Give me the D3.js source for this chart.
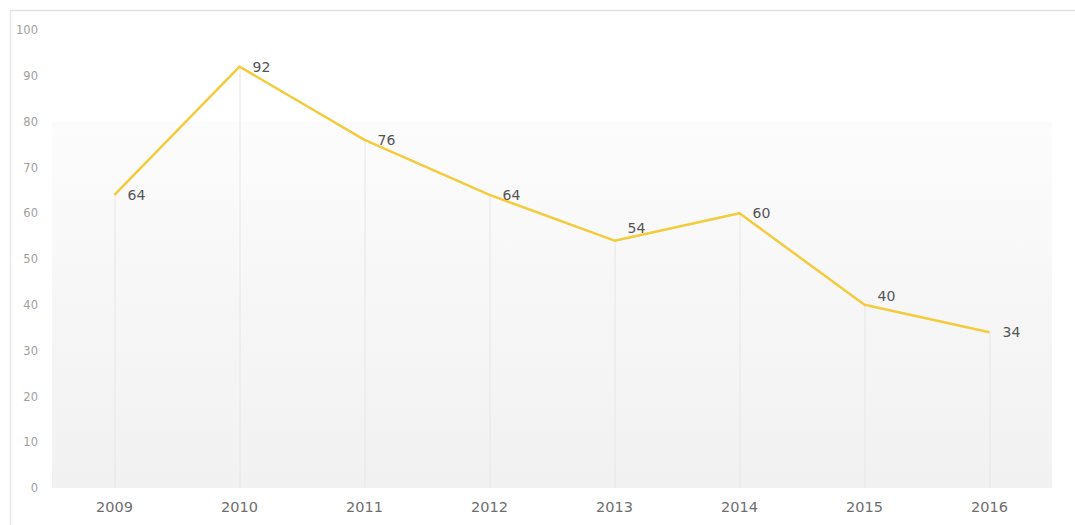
<!DOCTYPE html>
<html><head><meta charset="utf-8">
<script src="https://cdn.jsdelivr.net/npm/d3@7"></script>
<style>html,body{margin:0;padding:0;background:#fff;}svg{display:block;font-family:"DejaVu Sans",sans-serif;}</style>
</head><body>
<svg id="c" width="1075" height="525"></svg>
<script>
const years = ["2009","2010","2011","2012","2013","2014","2015","2016"];
const values = [64, 92, 76, 64, 54, 60, 40, 34];
const yTicks = [0,10,20,30,40,50,60,70,80,90,100];

// label vertical lift (px) to avoid overlapping the line
const labelLift = [0, 0, 0, 0, 13, 0, 9, 0];

const svg = d3.select("#c");
const W = 1075, H = 525;
const m = {left: 52, right: 23, top: 30, bottom: 37};
const x = d3.scaleBand().domain(years).range([m.left, W - m.right]);
const y = d3.scaleLinear().domain([0, 100]).range([H - m.bottom, m.top]);

// frame lines
svg.append("line").attr("x1", 10).attr("x2", W).attr("y1", 10.5).attr("y2", 10.5).attr("stroke", "#e2e2e2").attr("stroke-width", 1.5);
svg.append("line").attr("x1", 10.5).attr("x2", 10.5).attr("y1", 10).attr("y2", H).attr("stroke", "#e6e6e6").attr("stroke-width", 1.5);

// gradient background
const defs = svg.append("defs");
const g = defs.append("linearGradient").attr("id", "bg").attr("x1", 0).attr("x2", 0).attr("y1", 0).attr("y2", 1);
g.append("stop").attr("offset", "0").attr("stop-color", "#ffffff");
g.append("stop").attr("offset", "0.2").attr("stop-color", "#ffffff");
g.append("stop").attr("offset", "0.2").attr("stop-color", "#fcfcfc");
g.append("stop").attr("offset", "1").attr("stop-color", "#f1f1f1");
svg.append("rect").attr("x", m.left).attr("y", y(100)).attr("width", W - m.right - m.left).attr("height", y(0) - y(100)).attr("fill", "url(#bg)");

// y axis
const yAxis = d3.axisLeft(y).tickValues(yTicks).tickSize(0).tickPadding(0);
const ya = svg.append("g").attr("transform", `translate(38,0)`).call(yAxis);
ya.select(".domain").remove();
ya.selectAll("text").attr("fill", "#a0a0a0").attr("font-size", 11.5).attr("font-family", "DejaVu Sans");

// x axis
const xAxis = d3.axisBottom(x).tickSize(0).tickPadding(14);
const xa = svg.append("g").attr("transform", `translate(0,${y(0)})`).call(xAxis);
xa.select(".domain").remove();
xa.selectAll("text").attr("fill", "#6e6e6e").attr("font-size", 14.5).attr("font-family", "DejaVu Sans");

const cx = d => x(d) + x.bandwidth() / 2;

// drop lines
svg.append("g").selectAll("line").data(years).join("line")
  .attr("x1", d => cx(d) + 0.5).attr("x2", d => cx(d) + 0.5)
  .attr("y1", (d, i) => y(values[i])).attr("y2", y(0))
  .attr("stroke", "#e6e6e6").attr("stroke-width", 1);

// line
const line = d3.line().x((d, i) => cx(years[i])).y(d => y(d));
svg.append("path").datum(values).attr("d", line).attr("fill", "none")
  .attr("stroke", "#f4cb3c").attr("stroke-width", 2.5).attr("stroke-linejoin", "round");

// labels
svg.append("g").selectAll("text").data(values).join("text")
  .attr("x", (d, i) => cx(years[i]) + 13).attr("y", (d, i) => y(d) - labelLift[i])
  .attr("dy", "0.35em").attr("font-size", 14).attr("fill", "#555")
  .text(d => d);
</script>
</body></html>
